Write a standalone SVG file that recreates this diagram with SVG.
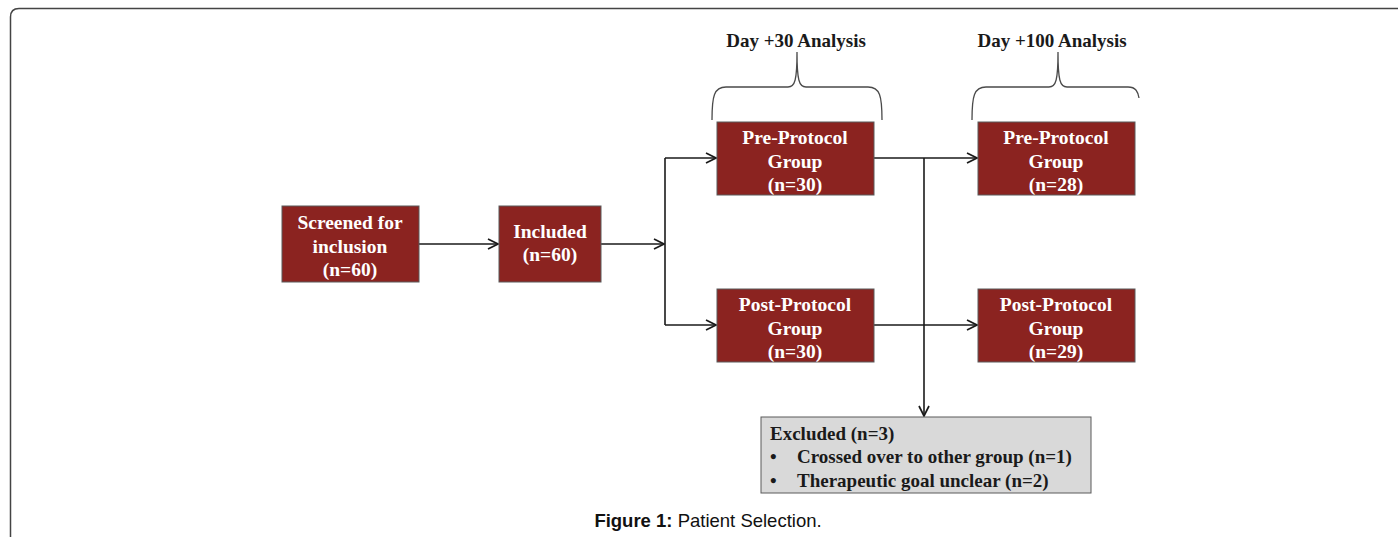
<svg xmlns="http://www.w3.org/2000/svg" width="1398" height="537" viewBox="0 0 1398 537">
<style>
.box{fill:#8b2320;stroke:#5a5a5a;stroke-width:1}
.bt{font-family:"Liberation Serif",serif;font-weight:bold;font-size:19.5px;fill:#ffffff;text-anchor:middle}
.dt{font-family:"Liberation Serif",serif;font-weight:bold;font-size:19px;fill:#1a1a1a}
.ln{fill:none;stroke:#1a1a1a;stroke-width:1.6}
.br{fill:none;stroke:#4a4a4a;stroke-width:1.3}
</style>
<defs>
<marker id="ah" viewBox="0 0 12 12" refX="11" refY="6" markerWidth="12" markerHeight="12" markerUnits="userSpaceOnUse" orient="auto">
<path d="M1,1 L11,6 L1,11" fill="none" stroke="#1a1a1a" stroke-width="1.7"/>
</marker>
</defs>
<rect width="1398" height="537" fill="#ffffff"/>
<path d="M10.5,537 V17 Q10.5,8.5 19,8.5 H1398" fill="none" stroke="#444" stroke-width="1.5"/>

<g id="label-day30"><text class="dt" x="796" y="47" text-anchor="middle">Day +30 Analysis</text>
<path class="br" d="M712,120 C712,96 714,87 726,87 H788 C795,87 797,80 797,52 C797,80 799,87 806,87 H868 C880,87 882,96 882,120"/></g>
<g id="label-day100"><text class="dt" x="1052" y="47" text-anchor="middle">Day +100 Analysis</text>
<path class="br" d="M972,120 C972,96 974,87 986,87 H1049 C1056,87 1058,80 1058,52 C1058,80 1060,87 1067,87 H1128 C1136,87 1138,92 1139,98"/></g>

<g id="connectors">
<line class="ln" x1="419" y1="244" x2="498" y2="244" marker-end="url(#ah)"/>
<line class="ln" x1="601" y1="244" x2="664" y2="244" marker-end="url(#ah)"/>
<line class="ln" x1="665" y1="158" x2="665" y2="325"/>
<line class="ln" x1="665" y1="158" x2="716" y2="158" marker-end="url(#ah)"/>
<line class="ln" x1="665" y1="325" x2="716" y2="325" marker-end="url(#ah)"/>
<line class="ln" x1="874" y1="158" x2="977" y2="158" marker-end="url(#ah)"/>
<line class="ln" x1="874" y1="325" x2="977" y2="325" marker-end="url(#ah)"/>
<line class="ln" x1="924" y1="158" x2="924" y2="416" marker-end="url(#ah)"/>
</g>

<g id="screened"><rect class="box" x="282" y="206" width="137" height="76"/>
<text class="bt" x="350" y="229">Screened for</text><text class="bt" x="350" y="253">inclusion</text><text class="bt" x="350" y="276">(n=60)</text></g>
<g id="included"><rect class="box" x="499" y="206" width="102" height="76"/>
<text class="bt" x="550" y="238">Included</text><text class="bt" x="550" y="261">(n=60)</text></g>
<g id="pre30"><rect class="box" x="717" y="122" width="157" height="73"/>
<text class="bt" x="795" y="144">Pre-Protocol</text><text class="bt" x="795" y="168">Group</text><text class="bt" x="795" y="191">(n=30)</text></g>
<g id="post30"><rect class="box" x="717" y="289" width="157" height="73"/>
<text class="bt" x="795" y="311">Post-Protocol</text><text class="bt" x="795" y="335">Group</text><text class="bt" x="795" y="358">(n=30)</text></g>
<g id="pre100"><rect class="box" x="978" y="122" width="157" height="73"/>
<text class="bt" x="1056" y="144">Pre-Protocol</text><text class="bt" x="1056" y="168">Group</text><text class="bt" x="1056" y="191">(n=28)</text></g>
<g id="post100"><rect class="box" x="978" y="289" width="157" height="73"/>
<text class="bt" x="1056" y="311">Post-Protocol</text><text class="bt" x="1056" y="335">Group</text><text class="bt" x="1056" y="358">(n=29)</text></g>
<g id="excluded"><rect x="761" y="417" width="330" height="76" fill="#d9d9d9" stroke="#5a5a5a" stroke-width="1"/>
<text class="dt" x="770" y="440">Excluded (n=3)</text>
<text class="dt" x="770" y="463">•</text><text class="dt" x="797" y="463">Crossed over to other group (n=1)</text>
<text class="dt" x="770" y="487">•</text><text class="dt" x="797" y="487">Therapeutic goal unclear (n=2)</text></g>

<text x="708" y="527" text-anchor="middle" font-family="Liberation Sans,Arial,sans-serif" font-size="18.5" fill="#111"><tspan font-weight="bold">Figure 1:</tspan> Patient Selection.</text>
</svg>
